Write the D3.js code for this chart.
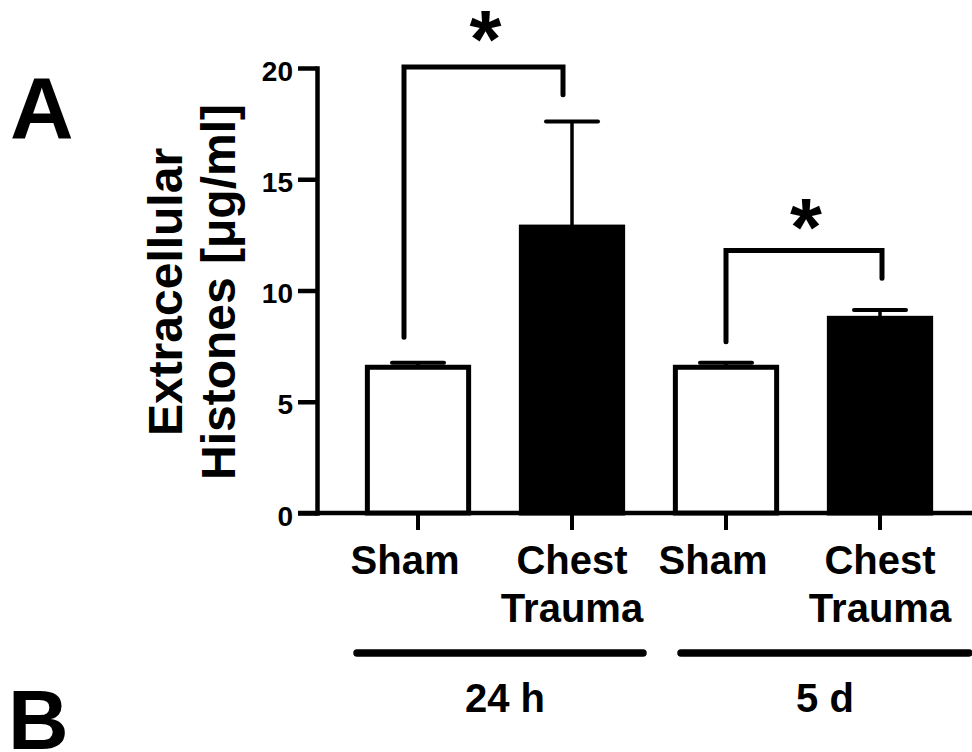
<!DOCTYPE html>
<html>
<head>
<meta charset="utf-8">
<script src="https://cdn.jsdelivr.net/npm/d3@7"></script>
<style>
  html, body { margin: 0; padding: 0; background: #fff; }
  svg { display: block; }
  text { font-family: "Liberation Sans", Arial, Helvetica, sans-serif; font-weight: bold; fill: #000; }
</style>
</head>
<body>
<script>
// ---- data ----
const barKeys = ["sham24", "ct24", "sham5d", "ct5d"];
const barLabels = [["Sham"], ["Chest", "Trauma"], ["Sham"], ["Chest", "Trauma"]];
const treatment = ["Sham", "Chest Trauma", "Sham", "Chest Trauma"];
const means = [6.55, 12.85, 6.55, 8.75];
const sems = [0.2, 4.75, 0.2, 0.37];
const timeGroups = ["24 h", "5 d"];
const groupMembers = [[0, 1], [2, 3]];
const yTicks = [0, 5, 10, 15, 20];
const sigFrom = [0, 2];
const sigTo = [1, 3];
const sigLeftEnd = [7.9, 7.7];
const sigRightEnd = [18.8, 10.55];
const sigTop = [20.05, 11.8];
const sigLabel = ["*", "*"];
const yTitle = ["Extracellular", "Histones [μg/ml]"];
const panelLabels = ["A", "B"];

// ---- layout ----
const W = 972, H = 752;
const svg = d3.select("body").append("svg").attr("width", W).attr("height", H);

const y = d3.scaleLinear().domain([0, 20]).range([513, 68]);
const x = d3.scaleBand().domain(barKeys).range([341, 957]).paddingInner(0.31).paddingOuter(0.155);
const axisX = 317, tickLen = 19;
const cx = i => x(barKeys[i]) + x.bandwidth() / 2;

// y axis
const yAxis = svg.append("g").attr("transform", `translate(${axisX},0)`)
  .call(d3.axisLeft(y).tickValues(yTicks).tickSize(tickLen).tickSizeOuter(0).tickPadding(5));
yAxis.select(".domain").attr("stroke", "#000").attr("stroke-width", 4.5).attr("stroke-linecap", "square");
yAxis.selectAll(".tick line").attr("stroke", "#000").attr("stroke-width", 4.5);
yAxis.selectAll(".tick text").attr("font-size", 28).attr("font-family", null).attr("dy", "0.43em").attr("fill", "#000");

// x baseline
svg.append("line").attr("x1", axisX - tickLen).attr("x2", W).attr("y1", y(0)).attr("y2", y(0))
  .attr("stroke", "#000").attr("stroke-width", 4.5);

// category ticks
const xAxis = svg.append("g").attr("transform", `translate(0,${y(0)})`)
  .call(d3.axisBottom(x).tickSize(17).tickFormat(""));
xAxis.select(".domain").remove();
xAxis.selectAll(".tick line").attr("stroke", "#000").attr("stroke-width", 4);

// bars
const sw = 5;
barKeys.forEach((k, i) => {
  const isSham = treatment[i] === "Sham";
  svg.append("rect")
    .attr("x", x(k) + sw / 2).attr("width", x.bandwidth() - sw)
    .attr("y", y(means[i])).attr("height", y(0) - y(means[i]))
    .attr("fill", isSham ? "#fff" : "#000").attr("stroke", "#000").attr("stroke-width", sw);
  // error bars
  const top = y(means[i] + sems[i]);
  svg.append("line").attr("x1", cx(i)).attr("x2", cx(i)).attr("y1", y(means[i])).attr("y2", top)
    .attr("stroke", "#000").attr("stroke-width", 3.5);
  svg.append("line").attr("x1", cx(i) - 26).attr("x2", cx(i) + 26).attr("y1", top).attr("y2", top)
    .attr("stroke", "#000").attr("stroke-width", 4).attr("stroke-linecap", "round");
});

// significance brackets
const brLeftShift = [-14, 0], brRightShift = [-9, 2], starLift = [9, 4];
sigFrom.forEach((f, j) => {
  const x1 = cx(f) + brLeftShift[j], x2 = cx(sigTo[j]) + brRightShift[j];
  svg.append("path")
    .attr("d", d3.line()([[x1, y(sigLeftEnd[j])], [x1, y(sigTop[j])], [x2, y(sigTop[j])], [x2, y(sigRightEnd[j])]]))
    .attr("fill", "none").attr("stroke", "#000").attr("stroke-width", 5)
    .attr("stroke-linecap", "round").attr("stroke-linejoin", "miter");
  svg.append("text").attr("x", (x1 + x2) / 2 + 2).attr("y", y(sigTop[j]) + 9 - starLift[j])
    .attr("text-anchor", "middle").attr("font-size", 82).text(sigLabel[j]);
});

// category labels
barLabels.forEach((lines, i) => {
  const shift = lines.length === 1 ? -13 : 0;
  lines.forEach((t, li) => {
    svg.append("text").attr("x", cx(i) + shift).attr("y", 574 + li * 48)
      .attr("text-anchor", "middle").attr("font-size", 40).text(t);
  });
});

// time groups
const grpLine = [[357, 643], [681, 969]];
const grpShift = [5, 0];
timeGroups.forEach((g, gi) => {
  const x1 = grpLine[gi][0], x2 = grpLine[gi][1];
  svg.append("line").attr("x1", x1).attr("x2", x2).attr("y1", 653).attr("y2", 653)
    .attr("stroke", "#000").attr("stroke-width", 7.5).attr("stroke-linecap", "round");
  svg.append("text").attr("x", (x1 + x2) / 2 + grpShift[gi]).attr("y", 712)
    .attr("text-anchor", "middle").attr("font-size", 40).text(g);
});

// y title
const tg = svg.append("g").attr("transform", "rotate(-90)");
tg.append("text").attr("x", -292).attr("y", 182).attr("text-anchor", "middle").attr("font-size", 48).text(yTitle[0]);
tg.append("text").attr("x", -292).attr("y", 235).attr("text-anchor", "middle").attr("font-size", 48).text(yTitle[1]);

// panel labels
svg.append("text").attr("x", 10).attr("y", 138).attr("font-size", 88).text(panelLabels[0]);
svg.append("text").attr("x", 8).attr("y", 749).attr("font-size", 84).text(panelLabels[1]);
</script>
</body>
</html>
